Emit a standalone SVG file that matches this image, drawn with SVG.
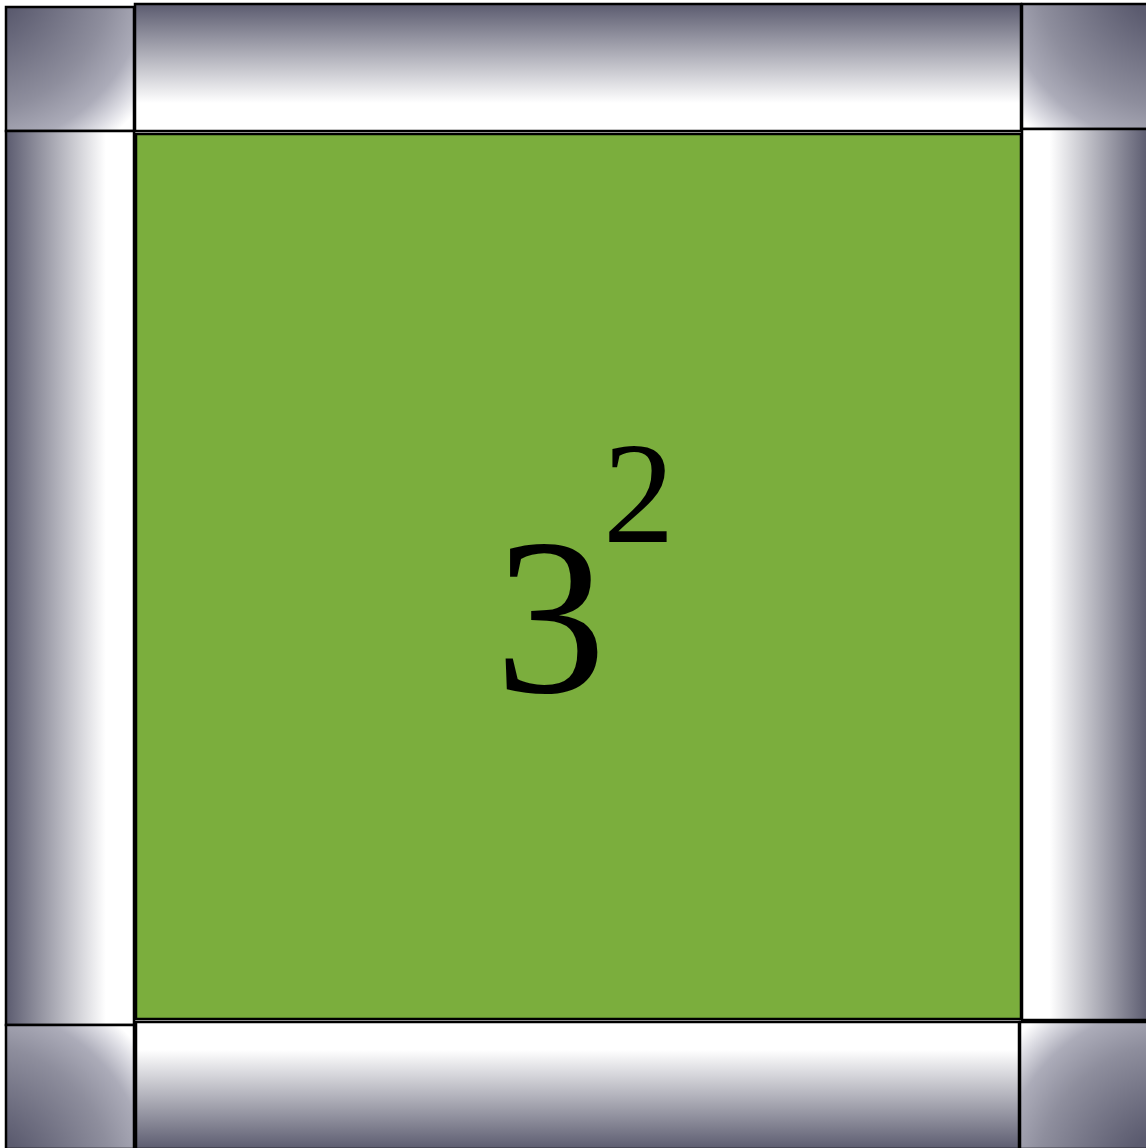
<svg xmlns="http://www.w3.org/2000/svg" width="1146" height="1148" viewBox="0 0 1146 1148">
<defs>
<linearGradient id="gTop" x1="0" y1="0" x2="0" y2="1"><stop offset="0" stop-color="#5b5b6f"/><stop offset="0.78" stop-color="#ffffff"/><stop offset="1" stop-color="#ffffff"/></linearGradient>
<linearGradient id="gBot" x1="0" y1="1" x2="0" y2="0"><stop offset="0" stop-color="#5b5b6f"/><stop offset="0.78" stop-color="#ffffff"/><stop offset="1" stop-color="#ffffff"/></linearGradient>
<linearGradient id="gLeft" x1="0" y1="0" x2="1" y2="0"><stop offset="0" stop-color="#5b5b6f"/><stop offset="0.78" stop-color="#ffffff"/><stop offset="1" stop-color="#ffffff"/></linearGradient>
<linearGradient id="gRight" x1="1" y1="0" x2="0" y2="0"><stop offset="0" stop-color="#5b5b6f"/><stop offset="0.78" stop-color="#ffffff"/><stop offset="1" stop-color="#ffffff"/></linearGradient>
<radialGradient id="gTL" gradientUnits="userSpaceOnUse" cx="-30" cy="-30" r="230"><stop offset="0.25" stop-color="#5b5b6f"/><stop offset="0.62" stop-color="#8e8e9d"/><stop offset="0.78" stop-color="#acacb9"/><stop offset="0.88" stop-color="#dcdce3"/><stop offset="0.95" stop-color="#ffffff"/></radialGradient>
<radialGradient id="gTR" gradientUnits="userSpaceOnUse" cx="1178" cy="-33" r="230"><stop offset="0.25" stop-color="#5b5b6f"/><stop offset="0.62" stop-color="#8e8e9d"/><stop offset="0.78" stop-color="#acacb9"/><stop offset="0.88" stop-color="#dcdce3"/><stop offset="0.95" stop-color="#ffffff"/></radialGradient>
<radialGradient id="gBL" gradientUnits="userSpaceOnUse" cx="-30" cy="1185" r="230"><stop offset="0.25" stop-color="#5b5b6f"/><stop offset="0.62" stop-color="#8e8e9d"/><stop offset="0.78" stop-color="#acacb9"/><stop offset="0.88" stop-color="#dcdce3"/><stop offset="0.95" stop-color="#ffffff"/></radialGradient>
<radialGradient id="gBR" gradientUnits="userSpaceOnUse" cx="1178" cy="1185" r="230"><stop offset="0.25" stop-color="#5b5b6f"/><stop offset="0.62" stop-color="#8e8e9d"/><stop offset="0.78" stop-color="#acacb9"/><stop offset="0.88" stop-color="#dcdce3"/><stop offset="0.95" stop-color="#ffffff"/></radialGradient>
</defs>
<style>
.fr{stroke:#000;stroke-width:2.5}
.num{font-family:"Liberation Serif",LiberationSerif,Tinos,"Nimbus Roman","Times New Roman",Times,FreeSerif,"Noto Serif",serif;fill:#000}
</style>
<rect width="1146" height="1148" fill="#ffffff"/>
<g id="corner-tl"><rect class="fr" x="6" y="7" width="128" height="124" fill="url(#gTL)"/></g>
<g id="bar-top"><rect class="fr" x="135" y="4" width="886" height="127" fill="url(#gTop)"/></g>
<g id="corner-tr"><rect class="fr" x="1022" y="4" width="126" height="125" fill="url(#gTR)"/></g>
<g id="bar-left"><rect class="fr" x="6" y="131" width="128" height="894" fill="url(#gLeft)"/></g>
<g id="bar-right"><rect class="fr" x="1022" y="129" width="126" height="891" fill="url(#gRight)"/></g>
<g id="corner-bl"><rect class="fr" x="6" y="1025" width="128" height="124" fill="url(#gBL)"/></g>
<g id="bar-bottom"><rect class="fr" x="136" y="1022" width="883" height="127" fill="url(#gBot)"/></g>
<g id="corner-br"><rect class="fr" x="1020" y="1022" width="128" height="127" fill="url(#gBR)"/></g>
<g id="square"><rect class="fr" x="136" y="134" width="885" height="885" fill="#7bae3d" stroke-width="2"/>
<text class="num" x="495" y="692" font-size="222">3</text>
<text class="num" x="603" y="542" font-size="143">2</text>
</g>
</svg>
